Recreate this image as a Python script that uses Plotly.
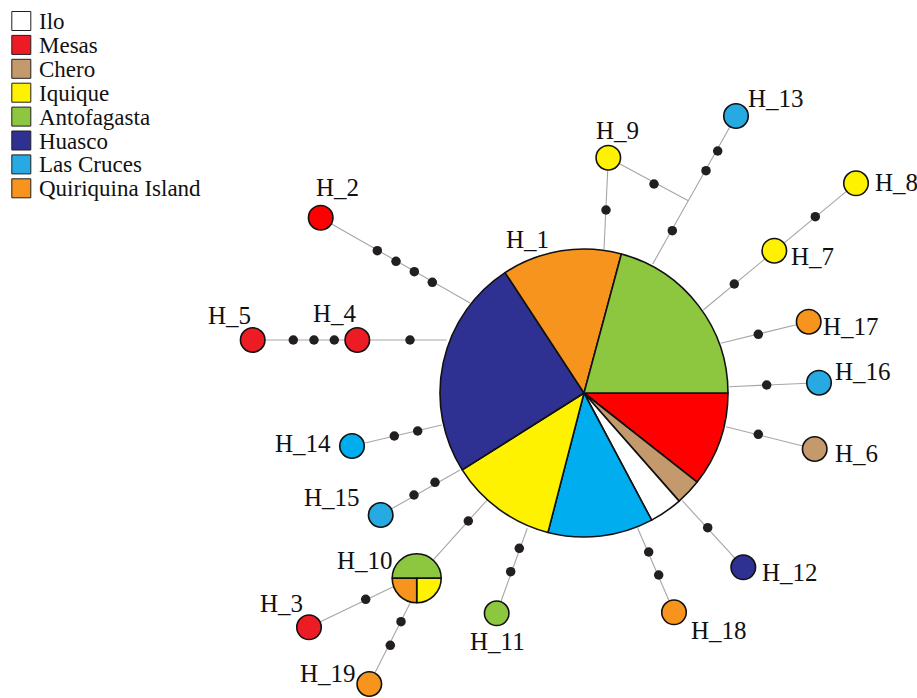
import plotly.graph_objects as go

W, H = 917, 698

# ---- populations ----------------------------------------------------------
populations = ["Ilo", "Mesas", "Chero", "Iquique", "Antofagasta",
               "Huasco", "Las Cruces", "Quiriquina Island"]
pop_colors = ["#FFFFFF", "#ED1C24", "#C49A6C", "#FFF200", "#8DC63F",
              "#2E3192", "#27AAE1", "#F7941D"]
pop_color = dict(zip(populations, pop_colors))

# ---- shared haplotypes (pie nodes) ------------------------------------------
# H_1: share of individuals (%) per population, clockwise from 3 o'clock
h1_pops = ["Mesas", "Chero", "Ilo", "Las Cruces", "Iquique",
           "Huasco", "Quiriquina Island", "Antofagasta"]
h1_share = [10.6, 2.9, 3.7, 11.8, 12.0, 24.7, 13.4, 20.8]
h1_colors = ["#FF0000", "#C49A6C", "#FFFFFF", "#00AEEF", "#FFF200",
             "#2E3192", "#F7941D", "#8DC63F"]

# H_10: share per population, clockwise from 9 o'clock
h10_pops = ["Antofagasta", "Iquique", "Quiriquina Island"]
h10_share = [50, 25, 25]

# ---- private haplotypes -----------------------------------------------------
hap_names = ["H_2", "H_3", "H_4", "H_5", "H_6", "H_7", "H_8", "H_9", "H_11",
             "H_12", "H_13", "H_14", "H_15", "H_16", "H_17", "H_18", "H_19"]
hap_pop = ["Mesas", "Mesas", "Mesas", "Mesas", "Chero", "Iquique", "Iquique",
           "Iquique", "Antofagasta", "Huasco", "Las Cruces", "Las Cruces",
           "Las Cruces", "Las Cruces", "Quiriquina Island",
           "Quiriquina Island", "Quiriquina Island"]

# ---- network layout (drawing units = pixels, y downwards) -------------------
pie_nodes = {"H_1": (584, 393, 144), "H_10": (416.7, 578.3, 24.5)}
hap_xy = {
    "H_2": (320.7, 217.7), "H_3": (309.0, 627.3), "H_4": (357.3, 340.0),
    "H_5": (252.7, 340.0), "H_6": (814.7, 449.0), "H_7": (774.3, 250.7),
    "H_8": (856.0, 183.3), "H_9": (608.3, 157.7), "H_11": (496.7, 613.3),
    "H_12": (743.3, 567.3), "H_13": (736.0, 116.0), "H_14": (352.0, 446.0),
    "H_15": (380.7, 515.0), "H_16": (819.0, 382.7), "H_17": (808.7, 321.7),
    "H_18": (674.0, 612.3), "H_19": (369.3, 684.0),
}
junction = (688.3, 200.7)

# links: polylines from a haplotype to where it meets its neighbour
links = [
    [hap_xy["H_2"], (470.0, 303.0)],
    [hap_xy["H_5"], hap_xy["H_4"], (446.7, 340.0)],
    [hap_xy["H_14"], (441.7, 425.0)],
    [hap_xy["H_15"], (460.0, 470.0)],
    [pie_nodes["H_10"][:2], (488.0, 499.0)],
    [hap_xy["H_3"], (393.3, 586.7)],
    [hap_xy["H_19"], (410.0, 603.3)],
    [hap_xy["H_11"], (527.3, 528.3)],
    [hap_xy["H_18"], (637.7, 528.3)],
    [hap_xy["H_12"], (682.3, 500.7)],
    [hap_xy["H_6"], (726.0, 426.7)],
    [hap_xy["H_16"], (729.3, 386.7)],
    [hap_xy["H_17"], (720.7, 343.3)],
    [hap_xy["H_8"], hap_xy["H_7"], (703.3, 310.0)],
    [hap_xy["H_9"], (604.0, 249.3)],
    [hap_xy["H_13"], junction, (652.7, 264.0)],
    [hap_xy["H_9"], junction],
]

# mutation steps (missing intermediate haplotypes)
step_x = [377.3, 396.0, 414.3, 432.3, 293.3, 314.0, 334.3, 410.0, 394.3, 417.7,
          414.0, 435.0, 468.3, 365.7, 401.0, 390.3, 519.3, 510.7, 648.7, 658.7,
          707.7, 758.3, 766.7, 758.3, 815.3, 734.3, 606.0, 654.0, 717.7, 706.0,
          672.3]
step_y = [250.7, 261.3, 271.7, 282.3, 340.0, 340.0, 340.0, 340.0, 436.0, 431.0,
          495.0, 482.3, 521.0, 599.3, 621.7, 645.3, 548.3, 571.7, 552.0, 575.0,
          527.7, 434.3, 385.0, 334.3, 216.7, 284.0, 210.0, 184.0, 151.0, 170.7,
          230.7]

# label placement: (x, y, anchor)
labels = {
    "H_1": (527.3, 239, "center"), "H_2": (337.2, 187.3, "center"),
    "H_4": (335.0, 313.5, "center"), "H_5": (229.2, 315.0, "center"),
    "H_14": (333.0, 443.0, "right"), "H_15": (362.0, 497.0, "right"),
    "H_10": (395.0, 560.5, "right"), "H_3": (305.0, 603.5, "right"),
    "H_19": (358.0, 673.0, "right"), "H_11": (497.5, 641.5, "center"),
    "H_18": (689.0, 630.0, "left"), "H_12": (760.0, 572.7, "left"),
    "H_6": (833.0, 453.3, "left"), "H_16": (832.5, 371.7, "left"),
    "H_17": (820.5, 326.7, "left"), "H_7": (789.0, 256.7, "left"),
    "H_8": (873.0, 182.0, "left"), "H_13": (746.0, 98.5, "left"),
    "H_9": (617.7, 130.0, "center"),
}

LABEL_FONT = dict(family="Liberation Serif, Times New Roman, serif", size=25, color="#111111")
LEGEND_FONT = dict(family="Liberation Serif, Times New Roman, serif", size=23, color="#111111")

fig = go.Figure()

# links
lx, ly = [], []
for chain in links:
    for (x, y) in chain:
        lx.append(x)
        ly.append(y)
    lx.append(None)
    ly.append(None)
fig.add_trace(go.Scatter(x=lx, y=ly, mode="lines",
                         line=dict(color="#A6A6A6", width=1.1),
                         hoverinfo="skip", showlegend=False))

# mutation steps
fig.add_trace(go.Scatter(x=step_x, y=step_y, mode="markers",
                         marker=dict(size=9.5, color="#231F20", line=dict(width=0)),
                         hoverinfo="skip", showlegend=False))

# private haplotypes
node_colors = [pop_color[p] for p in hap_pop]
node_colors[hap_names.index("H_2")] = "#FF0000"
node_colors[hap_names.index("H_14")] = "#00AEEF"
fig.add_trace(go.Scatter(
    x=[hap_xy[n][0] for n in hap_names], y=[hap_xy[n][1] for n in hap_names],
    mode="markers", text=hap_names, hovertemplate="%{text}<extra></extra>",
    marker=dict(size=24.5, color=node_colors, line=dict(color="#111111", width=1.6)),
    showlegend=False))


def pie_domain(cx, cy, r):
    return dict(x=[(cx - r) / W, (cx + r) / W],
                y=[1 - (cy + r) / H, 1 - (cy - r) / H])


cx, cy, r = pie_nodes["H_1"]
fig.add_trace(go.Pie(labels=h1_pops, values=h1_share, sort=False,
                     direction="clockwise", rotation=90,
                     marker=dict(colors=h1_colors, line=dict(color="#111111", width=1.6)),
                     textinfo="none", hoverinfo="label+percent", showlegend=False,
                     domain=pie_domain(cx, cy, r)))

cx, cy, r = pie_nodes["H_10"]
fig.add_trace(go.Pie(labels=h10_pops, values=h10_share, sort=False,
                     direction="clockwise", rotation=270,
                     marker=dict(colors=[pop_color[p] for p in h10_pops],
                                 line=dict(color="#111111", width=1.6)),
                     textinfo="none", hoverinfo="label+percent", showlegend=False,
                     domain=pie_domain(cx, cy, r)))

annotations = []
for name, (x, y, anchor) in labels.items():
    annotations.append(dict(x=x, y=y, text=name, xref="x", yref="y",
                            xanchor=anchor, yanchor="middle", showarrow=False,
                            font=LABEL_FONT))

# legend
leg_x0, leg_y0, leg_dy = 21.3, 21.0, 23.9
fig.add_trace(go.Scatter(
    x=[leg_x0] * len(populations),
    y=[leg_y0 + i * leg_dy for i in range(len(populations))],
    mode="markers", hoverinfo="skip", showlegend=False,
    marker=dict(symbol="square", size=19, color=pop_colors,
                line=dict(color="#231F20", width=1))))
for i, p in enumerate(populations):
    annotations.append(dict(x=36.5, y=leg_y0 + i * leg_dy + 0.5, text=p,
                            xref="x", yref="y", xanchor="left", yanchor="middle",
                            showarrow=False, font=LEGEND_FONT))

fig.update_layout(
    width=W, height=H,
    margin=dict(l=0, r=0, t=0, b=0),
    paper_bgcolor="white", plot_bgcolor="white",
    xaxis=dict(range=[0, W], visible=False, fixedrange=True),
    yaxis=dict(range=[H, 0], visible=False, fixedrange=True),
    annotations=annotations,
)

fig.write_html("out.html")
